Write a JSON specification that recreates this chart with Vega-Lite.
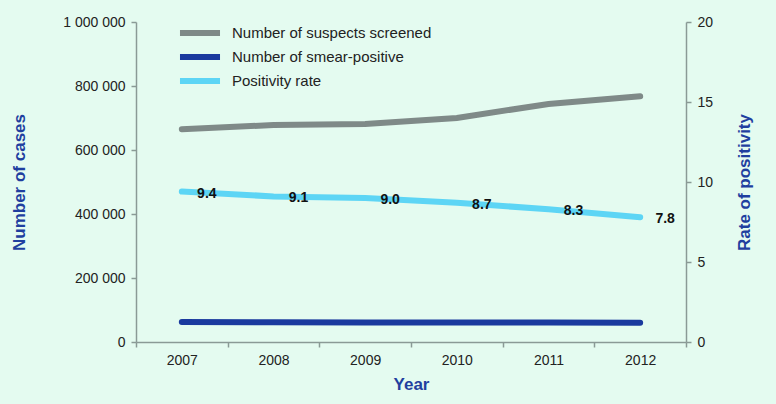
{
  "$schema": "https://vega.github.io/schema/vega-lite/v6.json",
  "width": 550,
  "height": 320,
  "autosize": {"type": "none"},
  "padding": {"left": 136, "top": 22, "right": 90, "bottom": 62},
  "background": "#e4fbf0",
  "config": {
    "view": {"stroke": null},
    "font": "Liberation Sans",
    "axis": {
      "labelFont": "Liberation Sans",
      "labelFontSize": 14,
      "labelColor": "#222222",
      "titleFont": "Liberation Sans",
      "titleFontSize": 17,
      "titleFontWeight": "bold",
      "titleColor": "#1f3f9f",
      "domainColor": "#8a9a96",
      "domainWidth": 1.5,
      "tickColor": "#8a9a96",
      "tickWidth": 1.5,
      "tickSize": 5,
      "grid": false
    }
  },
  "data": {
    "values": [
      {"year": "2007", "series": "Number of suspects screened", "value": 665000},
      {"year": "2008", "series": "Number of suspects screened", "value": 678000},
      {"year": "2009", "series": "Number of suspects screened", "value": 681000},
      {"year": "2010", "series": "Number of suspects screened", "value": 700000},
      {"year": "2011", "series": "Number of suspects screened", "value": 744000},
      {"year": "2012", "series": "Number of suspects screened", "value": 768000},
      {"year": "2007", "series": "Number of smear-positive", "value": 62500},
      {"year": "2008", "series": "Number of smear-positive", "value": 61700},
      {"year": "2009", "series": "Number of smear-positive", "value": 61300},
      {"year": "2010", "series": "Number of smear-positive", "value": 60900},
      {"year": "2011", "series": "Number of smear-positive", "value": 61200},
      {"year": "2012", "series": "Number of smear-positive", "value": 59900},
      {"year": "2007", "series": "Positivity rate", "value": 9.4},
      {"year": "2008", "series": "Positivity rate", "value": 9.1},
      {"year": "2009", "series": "Positivity rate", "value": 9.0},
      {"year": "2010", "series": "Positivity rate", "value": 8.7},
      {"year": "2011", "series": "Positivity rate", "value": 8.3},
      {"year": "2012", "series": "Positivity rate", "value": 7.8}
    ]
  },
  "encoding": {
    "x": {
      "field": "year",
      "type": "ordinal",
      "bandPosition": 0.5,
      "scale": {"type": "band", "paddingInner": 0, "paddingOuter": 0},
      "axis": {"title": "Year", "labelAngle": 0, "tickBand": "extent", "labelPadding": 6, "titlePadding": 9}
    }
  },
  "layer": [
    {
      "transform": [{"filter": "datum.series != 'Positivity rate'"}],
      "mark": {"type": "line", "strokeWidth": 6, "strokeCap": "round"},
      "encoding": {
        "y": {
          "field": "value",
          "type": "quantitative",
          "scale": {"domain": [0, 1000000], "nice": false},
          "axis": {"orient": "left", "title": "Number of cases", "labelExpr": "replace(replace(format(datum.value, ','), ',', ' '), ',', ' ')", "values": [0, 200000, 400000, 600000, 800000, 1000000], "labelPadding": 6, "titlePadding": 34}
        },
        "color": {
          "field": "series",
          "type": "nominal",
          "sort": null,
          "scale": {
            "domain": ["Number of suspects screened", "Number of smear-positive", "Positivity rate"],
            "range": ["#7f8a88", "#1a3a9e", "#5dd5f5"]
          },
          "legend": {
            "title": null,
            "orient": "none",
            "legendX": 54,
            "legendY": 1,
            "symbolType": "M-3,0H3",
            "symbolSize": 178,
            "symbolStrokeWidth": 6,
            "labelFontSize": 15,
            "labelColor": "#222222",
            "labelFont": "Liberation Sans",
            "labelLimit": 400,
            "labelOffset": 22,
            "rowPadding": 0
          }
        }
      }
    },
    {
      "transform": [{"filter": "datum.series == 'Positivity rate'"}],
      "layer": [
        {
          "mark": {"type": "line", "strokeWidth": 6, "strokeCap": "round"},
          "encoding": {
            "y": {
              "field": "value",
              "type": "quantitative",
              "scale": {"domain": [0, 20], "nice": false},
              "axis": {"orient": "right", "title": "Rate of positivity", "titleAngle": -90, "values": [0, 5, 10, 15, 20], "labelPadding": 6, "titlePadding": 41}
            },
            "color": {"field": "series", "type": "nominal"}
          }
        },
        {
          "mark": {"type": "text", "dx": 25, "dy": 2, "fontWeight": "bold", "fontSize": 14, "color": "#111111", "baseline": "middle", "align": "center"},
          "encoding": {
            "y": {"field": "value", "type": "quantitative", "title": "Rate of positivity"},
            "text": {"field": "value", "type": "quantitative", "format": ".1f"}
          }
        }
      ]
    }
  ],
  "resolve": {"scale": {"y": "independent"}}
}
